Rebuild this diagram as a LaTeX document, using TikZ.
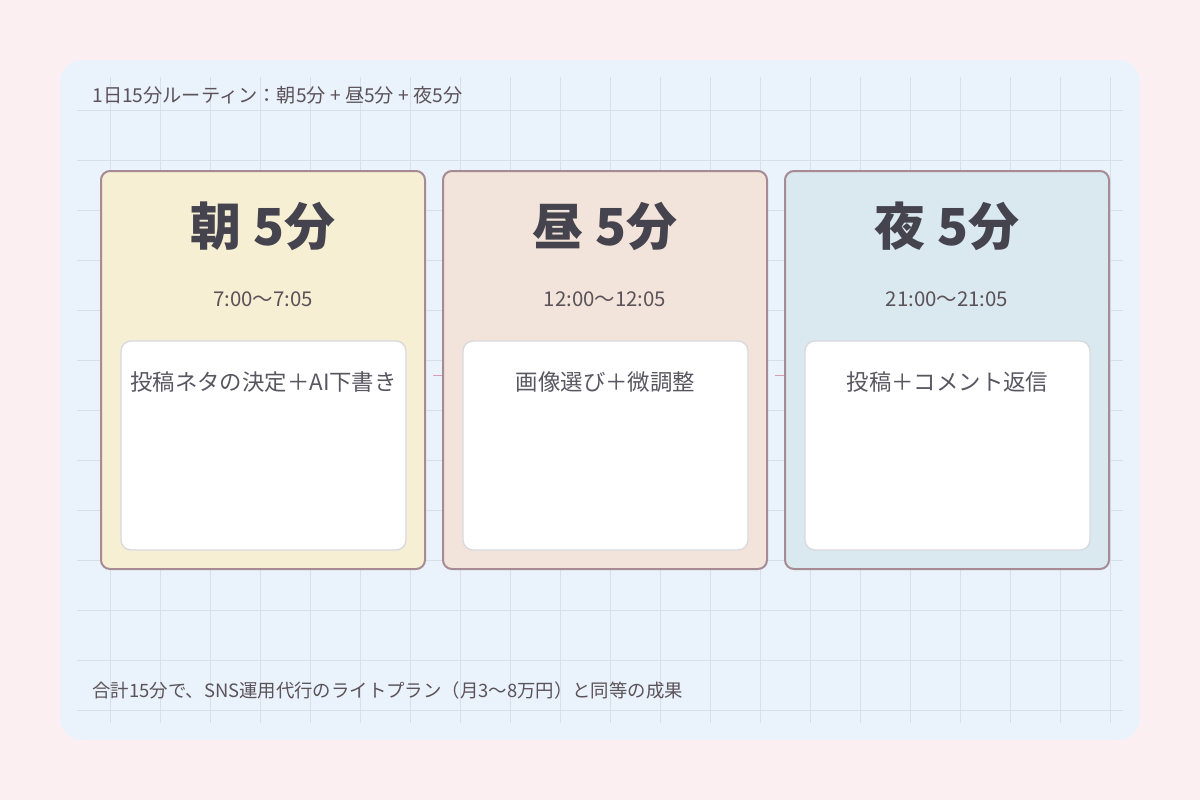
\documentclass[tikz,border=0pt]{standalone}
\usepackage{fontspec}
\setmainfont{Noto Sans CJK JP}
\definecolor{pagebg}{HTML}{FCEFF1}
\definecolor{panelbg}{HTML}{EAF3FB}
\definecolor{gridc}{HTML}{D6DFEA}
\definecolor{cardline}{HTML}{A68B95}
\definecolor{morningbg}{HTML}{F6EFD4}
\definecolor{noonbg}{HTML}{F2E4DA}
\definecolor{nightbg}{HTML}{DAE8EF}
\definecolor{boxline}{HTML}{D9D9DF}
\definecolor{titlec}{HTML}{45434E}
\definecolor{textc}{HTML}{5C5259}
\definecolor{linkc}{HTML}{D89FB0}
\tikzset{
  card/.style={draw=cardline, line width=1pt, rounded corners=4.5pt,
    minimum width=162pt, minimum height=199pt, inner sep=0pt},
  taskbox/.style={draw=boxline, fill=white, line width=0.7pt, rounded corners=5pt,
    minimum width=142.5pt, minimum height=104.5pt, inner sep=0pt},
  title/.style={text=titlec, font=\bfseries\fontsize{25.5pt}{30pt}\selectfont},
  time/.style={text=textc, font=\fontsize{10.2pt}{12pt}\selectfont},
  task/.style={text=titlec!90!white, font=\fontsize{11.2pt}{13pt}\selectfont},
  note/.style={text=textc, inner sep=0pt, anchor=west},
  link/.style={draw=linkc, line width=0.5pt, shorten <=3.5pt}
}
\begin{document}
\begin{tikzpicture}[x=0.5pt, y=-0.5pt]
\useasboundingbox (0,0) rectangle (1200,800);
\fill[pagebg] (0,0) rectangle (1200,800);
\fill[panelbg, rounded corners=11pt] (60,60) rectangle (1140,740);
\foreach \x in {110,160,...,1110}
  \draw[gridc, line width=0.5pt] (\x,77) -- (\x,723);
\foreach \y in {110,160,...,710}
  \draw[gridc, line width=0.5pt] (77,\y) -- (1123,\y);

\node[note, font=\fontsize{9.6pt}{11pt}\selectfont] (head) at (92,95) {1日15分ルーティン：朝5分 + 昼5分 + 夜5分};
\node[note, font=\fontsize{9.2pt}{11pt}\selectfont] (foot) at (92,690) {合計15分で、SNS運用代行のライトプラン（月3〜8万円）と同等の成果};

\node[card, fill=morningbg] (morning) at (263,370) {};
\node[card, fill=noonbg] (noon) at (605,370) {};
\node[card, fill=nightbg] (night) at (947,370) {};
\draw[link] ([yshift=-2.5pt]morning.east) -- ([yshift=-2.5pt]noon.west);
\draw[link] ([yshift=-2.5pt]noon.east) -- ([yshift=-2.5pt]night.west);

\node[title] (morningtitle) at (263,226) {朝 5分};
\node[time] (morningtime) at (263,299) {7:00〜7:05};
\node[taskbox] (morningbox) at (263.5,445.5) {};
\node[task] (morningtask) at (263.5,382) {投稿ネタの決定＋AI下書き};

\node[title] (noontitle) at (605,226) {昼 5分};
\node[time] (noontime) at (605,299) {12:00〜12:05};
\node[taskbox] (noonbox) at (605.5,445.5) {};
\node[task] (noontask) at (605.5,382) {画像選び＋微調整};

\node[title] (nighttitle) at (947,226) {夜 5分};
\node[time] (nighttime) at (947,299) {21:00〜21:05};
\node[taskbox] (nightbox) at (947.5,445.5) {};
\node[task] (nighttask) at (947.5,382) {投稿＋コメント返信};
\end{tikzpicture}
\end{document}
